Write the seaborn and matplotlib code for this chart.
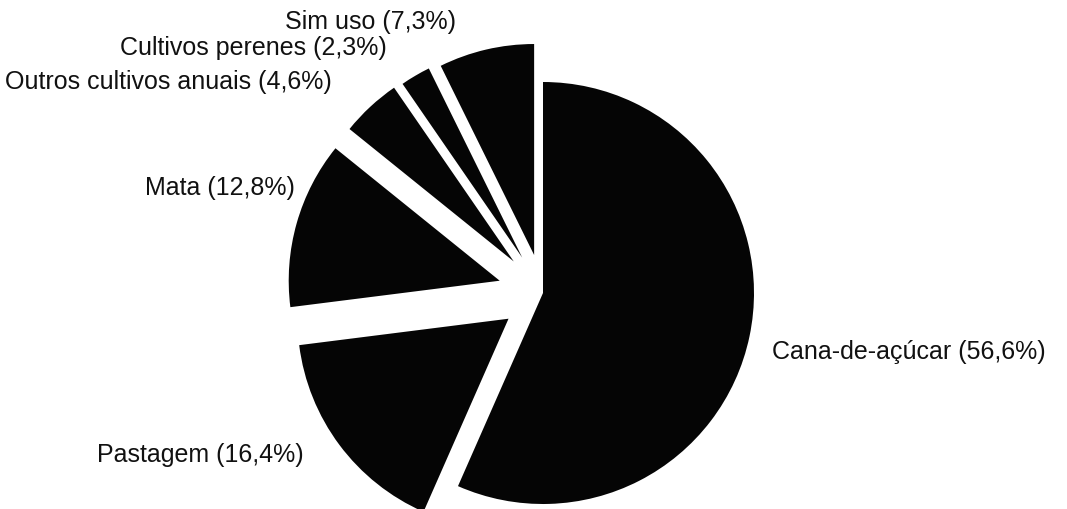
import matplotlib
matplotlib.use("Agg")
import matplotlib.pyplot as plt
import seaborn as sns

# Data
categories = ["Cana-de-açúcar", "Pastagem", "Mata", "Outros cultivos anuais",
              "Cultivos perenes", "Sim uso"]
shares = [56.6, 16.4, 12.8, 4.6, 2.3, 7.3]
label_texts = ["Cana-de-açúcar (56,6%)", "Pastagem (16,4%)", "Mata (12,8%)",
               "Outros cultivos anuais (4,6%)", "Cultivos perenes (2,3%)",
               "Sim uso (7,3%)"]

sns.set_theme(style="white")
plt.rcParams["font.family"] = ["Liberation Sans", "DejaVu Sans"]

W, H = 1067, 510
fig = plt.figure(figsize=(W / 100, H / 100), dpi=100)
ax = fig.add_axes([0, 0, 1, 1])

# layout (pixel space, y up); explode offsets in pixels
center = (543, H - 294)
radius = 211
explode_px = [0, 43, 45, 43, 41, 39]

ax.pie(shares, explode=explode_px, startangle=90, counterclock=False,
       colors=["#050505"] * len(shares), center=center, radius=radius,
       wedgeprops=dict(linewidth=0), frame=True)
ax.set_xlim(0, W)
ax.set_ylim(0, H)
ax.set_aspect("equal")
ax.axis("off")

# label anchor positions (pixel coords, y from top)
label_pos = [(772, 352), (97, 455), (145, 188), (5, 82), (120, 48), (285, 22)]
for txt, (x, y) in zip(label_texts, label_pos):
    ax.text(x, H - y, txt, ha="left", va="center", fontsize=18,
            color="#111111")

fig.savefig("out.png", dpi=100, facecolor="white")
